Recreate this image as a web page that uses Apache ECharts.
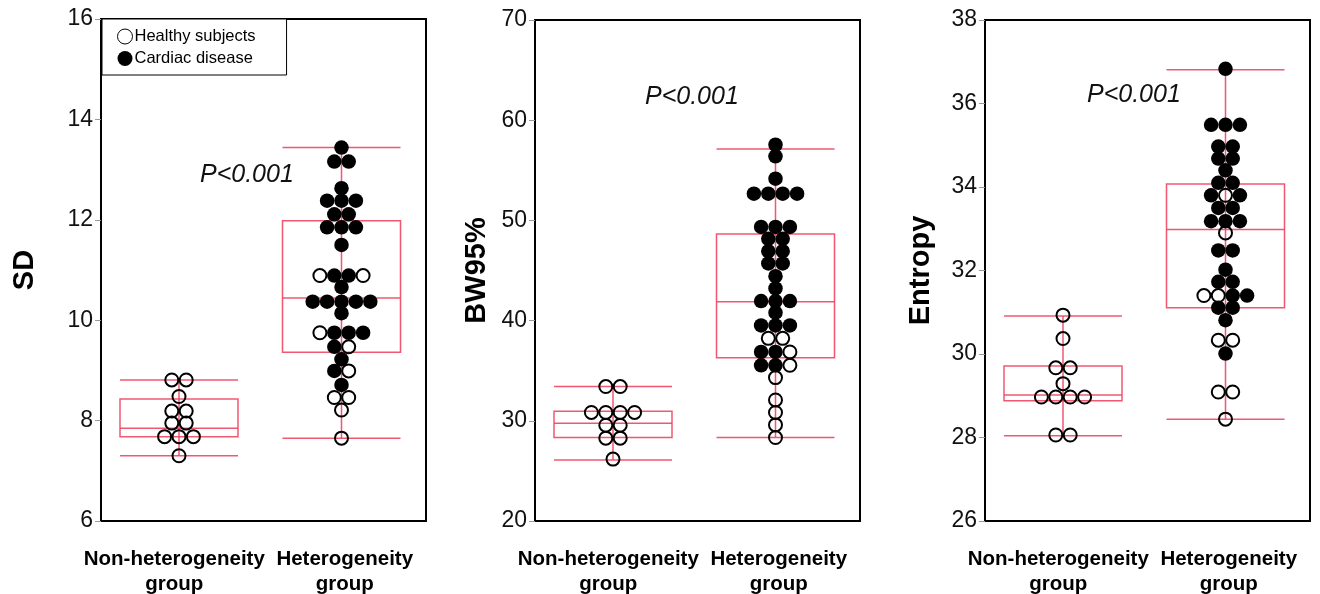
<!DOCTYPE html>
<html>
<head>
<meta charset="utf-8">
<script src="https://cdn.jsdelivr.net/npm/echarts@6/dist/echarts.min.js"></script>
<style>
  html, body { margin: 0; padding: 0; background: #fff; }
  #chart { width: 1320px; height: 594px; }
</style>
</head>
<body>
<div id="chart"></div>
<script>
// dot rows: [value, pattern] where 'o' = healthy subject, 'f' = cardiac disease
const sdNon = [[8.81, 'oo'], [8.48, 'o'], [8.19, 'oo'], [7.95, 'oo'], [7.68, 'ooo'], [7.30, 'o']];
const sdHet = [[13.44, 'f'], [13.16, 'ff'], [12.63, 'f'], [12.38, 'fff'], [12.11, 'ff'], [11.85, 'fff'],
  [11.50, 'f'], [10.89, 'offo'], [10.66, 'f'], [10.37, 'fffff'], [10.14, 'f'], [9.75, 'offf'],
  [9.47, 'fo'], [9.22, 'f'], [8.99, 'fo'], [8.71, 'f'], [8.46, 'oo'], [8.21, 'o'], [7.65, 'o']];

const bwNon = [[33.42, 'oo'], [30.83, 'oooo'], [29.56, 'oo'], [28.27, 'oo'], [26.18, 'o']];
const bwHet = [[57.55, 'f'], [56.39, 'f'], [54.16, 'f'], [52.67, 'ffff'], [49.35, 'fff'], [48.16, 'ff'],
  [46.93, 'ff'], [45.70, 'ff'], [44.43, 'f'], [43.21, 'f'], [41.95, 'fff'], [40.79, 'f'], [39.52, 'fff'],
  [38.23, 'oo'], [36.87, 'ffo'], [35.54, 'ffo'], [34.31, 'o'], [32.08, 'o'], [30.83, 'o'], [29.59, 'o'], [28.33, 'o']];

const entNon = [[30.93, 'o'], [30.37, 'o'], [29.67, 'oo'], [29.29, 'o'], [28.97, 'oooo'], [28.06, 'oo']];
const entHet = [[36.83, 'f'], [35.49, 'fff'], [34.97, 'ff'], [34.68, 'ff'], [34.40, 'f'], [34.10, 'ff'],
  [33.80, 'fof'], [33.50, 'ff'], [33.18, 'fff'], [32.90, 'o'], [32.48, 'ff'], [32.02, 'f'], [31.73, 'ff'],
  [31.40, 'ooff'], [31.11, 'ff'], [30.81, 'f'], [30.33, 'oo'], [30.01, 'f'], [29.09, 'oo'], [28.44, 'o']];

// box stats: [min, Q1, median, Q3, max]
const sdBox = [[7.30, 7.68, 7.85, 8.43, 8.81], [7.65, 9.36, 10.44, 11.98, 13.44]];
const bwBox = [[26.10, 28.34, 29.76, 30.96, 33.42], [28.33, 36.30, 41.89, 48.65, 57.12]];
const entBox = [[28.04, 28.88, 29.02, 29.71, 30.91], [28.44, 31.11, 32.98, 34.07, 36.81]];

const groups = ['Non-heterogeneity\ngroup', 'Heterogeneity\ngroup'];
const legendNames = ['Healthy subjects', 'Cardiac disease'];

const panels = [
  { name: 'SD', rows: [sdNon, sdHet], box: sdBox, min: 6, max: 16, interval: 2, left: 101, top: 19, gap: 62 },
  { name: 'BW95%', rows: [bwNon, bwHet], box: bwBox, min: 20, max: 70, interval: 10, left: 535, top: 20, gap: 44 },
  { name: 'Entropy', rows: [entNon, entHet], box: entBox, min: 26, max: 38, interval: 2, left: 985, top: 20, gap: 50 }
];

const PANEL_W = 325;
const centers = [0.24, 0.74];
const step = 14.4 / PANEL_W;
const halfBox = 59 / PANEL_W;
const boxColor = '#ee4662';
const font = 'Liberation Sans, Arial, sans-serif';

const grids = [], xAxes = [], yAxes = [], series = [];

panels.forEach((p, i) => {
  grids.push({
    left: p.left, top: p.top, width: PANEL_W, bottom: 594 - 521,
    outerBoundsMode: 'none', containLabel: false,
    show: true, borderColor: '#000', borderWidth: 2, backgroundColor: '#fff'
  });
  xAxes.push({
    gridIndex: i, type: 'value', min: 0, max: 1, show: false
  });
  xAxes.push({
    gridIndex: i, type: 'category', data: groups, position: 'bottom',
    axisLine: { show: false }, axisTick: { show: false }, splitLine: { show: false },
    axisLabel: {
      interval: 0, hideOverlap: false,
      margin: 26, fontSize: 20.5, fontWeight: 'bold', color: '#000', fontFamily: font, lineHeight: 25,
      formatter: (v, idx) => idx === 0 ? '{l|' + v + '}' : v,
      rich: { l: { padding: [0, 16, 0, 0], fontSize: 20.5, fontWeight: 'bold', lineHeight: 25, fontFamily: font } }
    }
  });
  yAxes.push({
    gridIndex: i, type: 'value', min: p.min, max: p.max, interval: p.interval,
    name: p.name, nameLocation: 'middle', nameGap: p.gap,
    nameTextStyle: { fontSize: 29, fontWeight: 'bold', color: '#000', fontFamily: font },
    axisLine: { show: false },
    axisTick: { show: true, length: 6, lineStyle: { color: '#999' } },
    splitLine: { show: false },
    axisLabel: { fontSize: 23, color: '#111', margin: 8, fontFamily: font }
  });

  const healthy = [], cardiac = [];
  p.rows.forEach((rows, g) => {
    rows.forEach(([v, pattern]) => {
      const n = pattern.length;
      for (let k = 0; k < n; k++) {
        const x = centers[g] + (k - (n - 1) / 2) * step;
        (pattern[k] === 'o' ? healthy : cardiac).push([x, v]);
      }
    });
  });

  series.push({
    type: 'custom', xAxisIndex: i * 2, yAxisIndex: i, z: 1, silent: true,
    data: p.box.map((b, g) => [centers[g]].concat(b)),
    renderItem: (params, api) => {
      const c = api.value(0);
      const lo = api.value(1), q1 = api.value(2), md = api.value(3), q3 = api.value(4), hi = api.value(5);
      const pt = (x, y) => api.coord([x, y]);
      const style = { stroke: boxColor, lineWidth: 1.5, fill: null, opacity: 0.9 };
      const hline = (y) => ({ type: 'line', shape: { x1: pt(c - halfBox, y)[0], y1: pt(c, y)[1], x2: pt(c + halfBox, y)[0], y2: pt(c, y)[1] }, style });
      const a = pt(c - halfBox, q3), b = pt(c + halfBox, q1);
      return {
        type: 'group',
        children: [
          { type: 'line', shape: { x1: pt(c, lo)[0], y1: pt(c, lo)[1], x2: pt(c, hi)[0], y2: pt(c, hi)[1] }, style },
          { type: 'rect', shape: { x: a[0], y: a[1], width: b[0] - a[0], height: b[1] - a[1] }, style },
          hline(lo), hline(md), hline(hi)
        ]
      };
    }
  });
  series.push({
    name: legendNames[0], type: 'scatter', xAxisIndex: i * 2, yAxisIndex: i, z: 3,
    symbol: 'circle', symbolSize: 13, data: healthy,
    itemStyle: { color: 'rgba(0,0,0,0)', borderColor: '#000', borderWidth: 2, opacity: 1 }
  });
  series.push({
    name: legendNames[1], type: 'scatter', xAxisIndex: i * 2, yAxisIndex: i, z: 2,
    symbol: 'circle', symbolSize: 14.5, data: cardiac,
    itemStyle: { color: '#000', opacity: 1 }
  });
});

const pFont = 'italic 25px Liberation Sans, Arial, sans-serif';

const chart = echarts.init(document.getElementById('chart'));
chart.setOption({
  backgroundColor: '#fff',
  animation: false,
  grid: grids,
  xAxis: xAxes,
  yAxis: yAxes,
  legend: {
    orient: 'vertical', left: 102, top: 19,
    data: [
      { name: legendNames[0], icon: 'circle', itemStyle: { color: '#fff', borderColor: '#000', borderWidth: 1 } },
      { name: legendNames[1], icon: 'circle', itemStyle: { color: '#000', borderWidth: 0 } }
    ],
    itemWidth: 15, itemHeight: 15, itemGap: 5,
    padding: [9, 31, 8, 15],
    borderColor: '#000', borderWidth: 1, backgroundColor: '#fff',
    textStyle: { fontSize: 16.5, color: '#000', fontFamily: font, padding: [0, 0, 0, -3] },
    selectedMode: false
  },
  graphic: [
    { type: 'text', left: 200, top: 163, style: { text: 'P<0.001', font: pFont, fill: '#111' } },
    { type: 'text', left: 645, top: 85, style: { text: 'P<0.001', font: pFont, fill: '#111' } },
    { type: 'text', left: 1087, top: 83, style: { text: 'P<0.001', font: pFont, fill: '#111' } }
  ],
  series: series
});
</script>
</body>
</html>
